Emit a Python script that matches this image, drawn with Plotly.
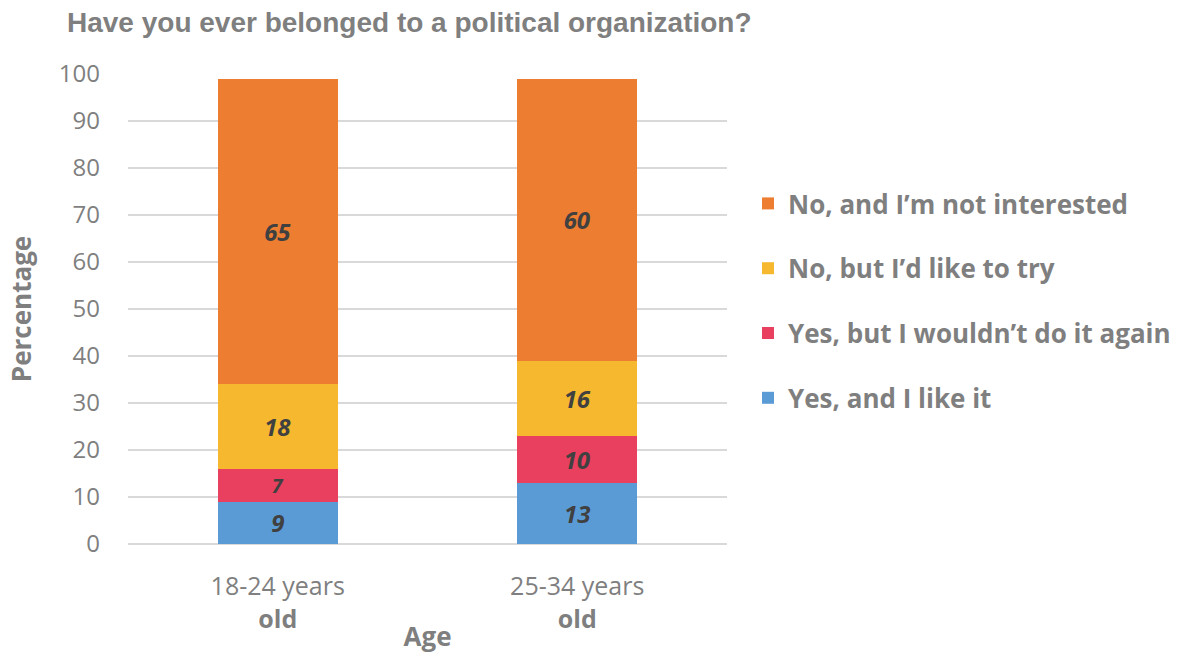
import plotly.graph_objects as go

# Survey shares (%) by age group
age_groups = ["18-24 years<br><b>old</b>", "25-34 years<br><b>old</b>"]
yes_like = [9, 13]
yes_not_again = [7, 10]
no_would_try = [18, 16]
no_not_interested = [65, 60]

series = [
    ("Yes, and I like it", yes_like, "#5B9BD5"),
    ("Yes, but I wouldn\u2019t do it again", yes_not_again, "#E8405E"),
    ("No, but I\u2019d like to try", no_would_try, "#F5B82E"),
    ("No, and I\u2019m not interested", no_not_interested, "#ED7D31"),
]

GRAY = "#7f7f7f"
FONT = "Open Sans, Lato, sans-serif"

fig = go.Figure()
for i, (name, vals, color) in enumerate(series):
    fig.add_trace(go.Bar(
        name=f"<b>{name}</b>",
        x=age_groups,
        y=vals,
        marker=dict(color=color, line=dict(width=0)),
        text=[f"<b><i>{v}</i></b>" for v in vals],
        textposition="inside",
        insidetextanchor="middle",
        textangle=0,
        textfont=dict(family=FONT, size=24, color="#404040"),
        legendgroup=name,
        legendrank=len(series) - i,
        width=0.4,
    ))

fig.update_layout(
    barmode="stack",
    width=1193,
    height=654,
    paper_bgcolor="white",
    plot_bgcolor="white",
    margin=dict(l=128, r=466, t=74, b=110),
    title=dict(
        text="<b>Have you ever belonged to a political organization?</b>",
        font=dict(family="Liberation Sans, Arial, sans-serif", size=28, color=GRAY),
        x=67 / 1193, xanchor="left", xref="container",
        y=1 - 22 / 654, yanchor="middle", yref="container",
    ),
    legend=dict(
        x=(748 - 128) / 599, xanchor="left",
        y=(544 - 180) / 470, yanchor="top",
        traceorder="grouped",
        tracegroupgap=28,
        font=dict(family=FONT, size=26, color=GRAY),
        bgcolor="rgba(0,0,0,0)",
    ),
    showlegend=True,
)

fig.update_yaxes(
    automargin=False,
    range=[0, 100],
    dtick=10,
    showgrid=True,
    gridcolor="#d9d9d9",
    gridwidth=2,
    zeroline=True,
    zerolinecolor="#d9d9d9",
    zerolinewidth=2,
    showline=False,
    ticks="",
    ticklabelstandoff=27,
    tickfont=dict(family=FONT, size=24, color=GRAY),
    title=dict(
        text="<b>Percentage</b>",
        font=dict(family=FONT, size=26, color=GRAY),
        standoff=19,
    ),
)

fig.update_xaxes(
    automargin=False,
    showgrid=False,
    showline=False,
    ticks="",
    ticklabelstandoff=25,
    tickfont=dict(family=FONT, size=25, color=GRAY),
    title=dict(
        text="<b>Age</b>",
        font=dict(family=FONT, size=26, color=GRAY),
        standoff=0,
    ),
)

fig.write_html("out.html")
